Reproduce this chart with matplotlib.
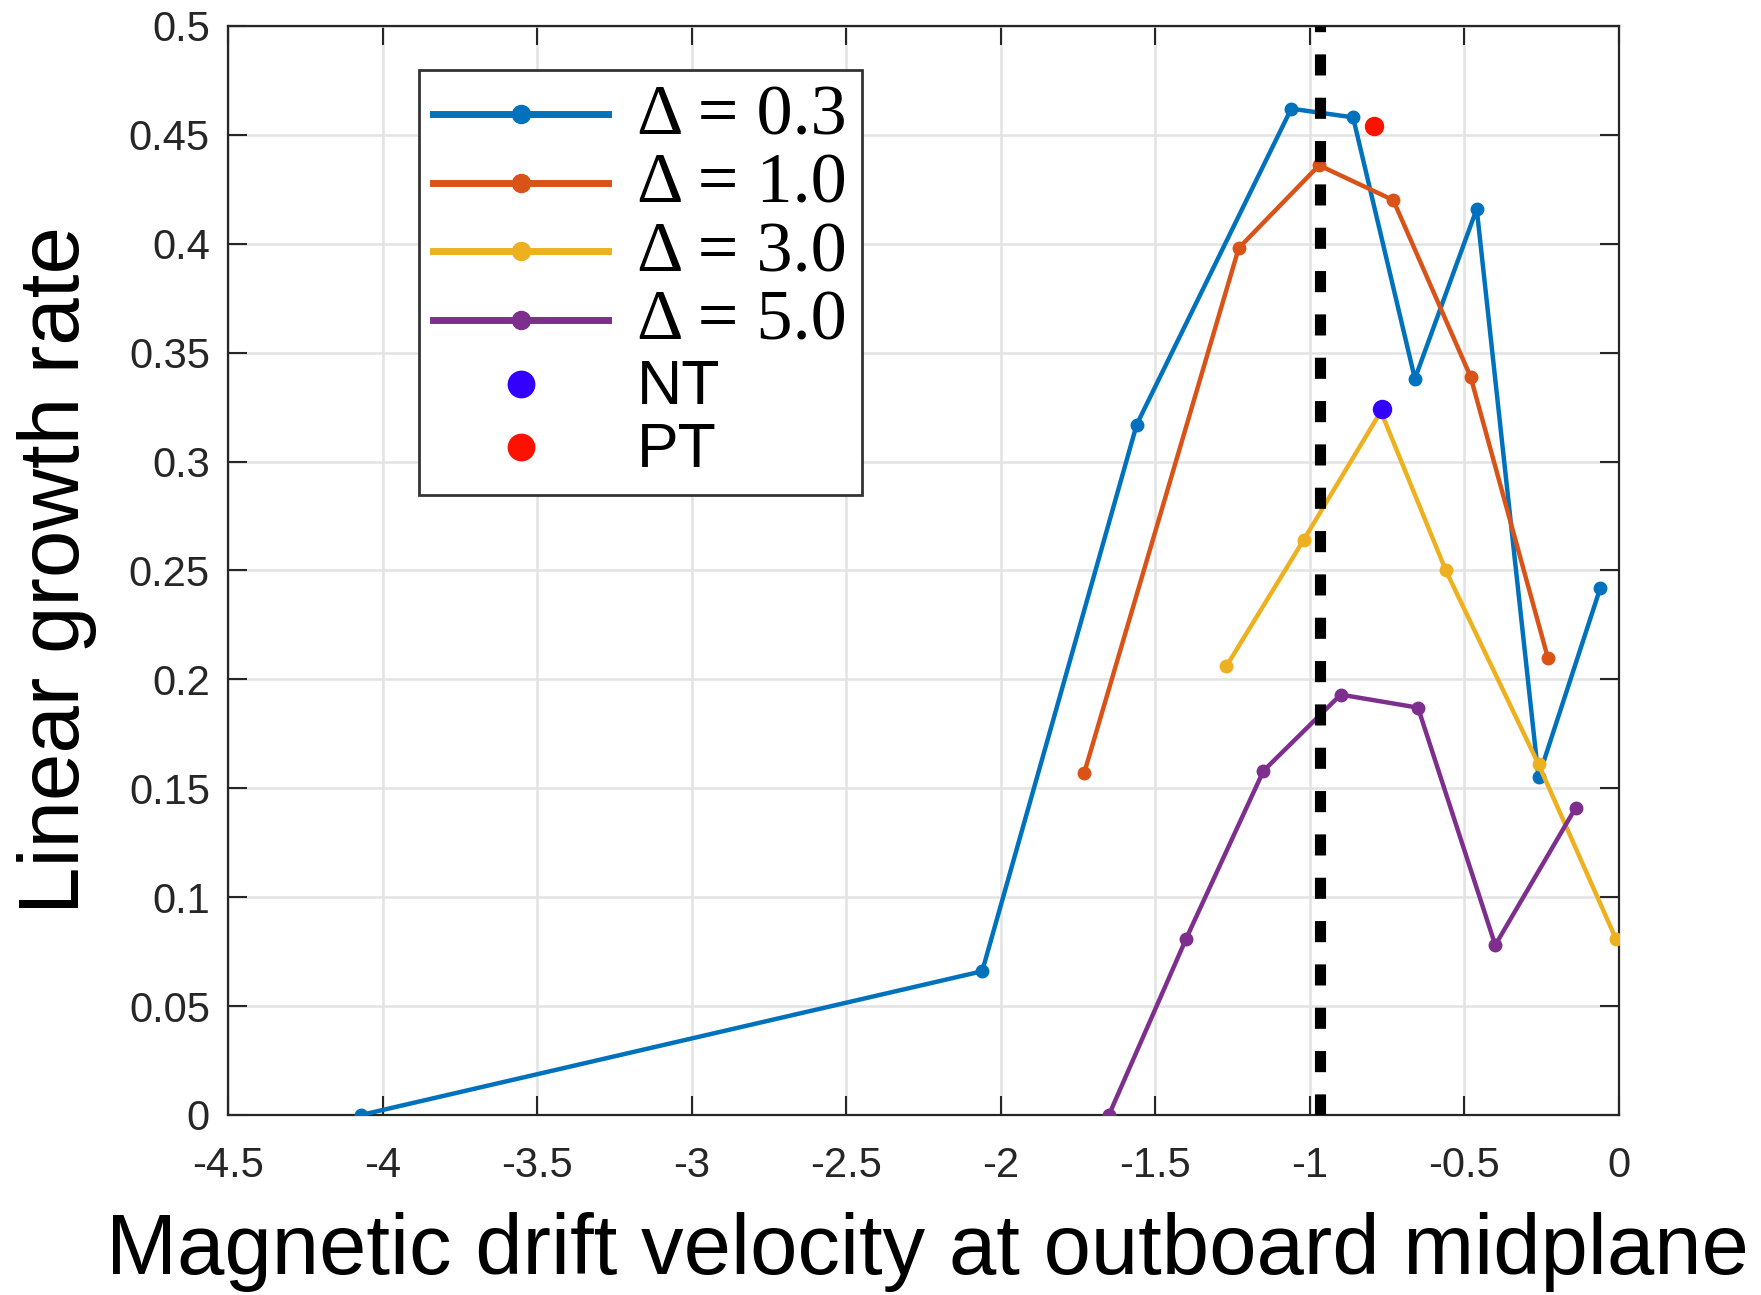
import matplotlib
matplotlib.use("Agg")
import matplotlib.pyplot as plt
from matplotlib.lines import Line2D

# growth rate vs. magnetic drift velocity, one series per Delta
x_d03 = [-4.07, -2.06, -1.56, -1.06, -0.86, -0.66, -0.46, -0.26, -0.06]
y_d03 = [0.0, 0.066, 0.317, 0.462, 0.458, 0.338, 0.416, 0.155, 0.242]

x_d10 = [-1.73, -1.23, -0.97, -0.73, -0.48, -0.23]
y_d10 = [0.157, 0.398, 0.436, 0.420, 0.339, 0.210]

x_d30 = [-1.27, -1.02, -0.77, -0.56, -0.26, -0.01]
y_d30 = [0.206, 0.264, 0.323, 0.250, 0.161, 0.081]

x_d50 = [-1.65, -1.40, -1.15, -0.90, -0.65, -0.40, -0.14]
y_d50 = [0.0, 0.081, 0.158, 0.193, 0.187, 0.078, 0.141]

nt_point = (-0.766, 0.324)
pt_point = (-0.792, 0.454)
ref_velocity = -0.968

series_labels = ["\u0394 = 0.3", "\u0394 = 1.0", "\u0394 = 3.0", "\u0394 = 5.0"]
series_colors = ["#0072BD", "#D95319", "#EDB120", "#7E2F8E"]
xticks = [-4.5, -4, -3.5, -3, -2.5, -2, -1.5, -1, -0.5, 0]
yticks = [0, 0.05, 0.1, 0.15, 0.2, 0.25, 0.3, 0.35, 0.4, 0.45, 0.5]

SANS = ["Liberation Sans", "DejaVu Sans"]
SERIF = ["Liberation Serif", "DejaVu Serif"]
AXIS_GRAY = "#262626"

fig = plt.figure(figsize=(17.61, 12.95), dpi=100)
ax = fig.add_axes([0.1295, 0.139, 0.7898, 0.841])

series = [(x_d03, y_d03), (x_d10, y_d10), (x_d30, y_d30), (x_d50, y_d50)]
for (xs, ys), color in zip(series, series_colors):
    ax.plot(xs, ys, color=color, linewidth=3.2, marker="o", markersize=9, zorder=3)

ax.plot(*nt_point, "o", color="#3300ff", markersize=13, zorder=4)
ax.plot(*pt_point, "o", color="#ff1100", markersize=13, zorder=4)

ax.axvline(ref_velocity, color="black", linewidth=8, linestyle=(0, (1.9, 2.0)), zorder=5)

ax.set_xlim(-4.5, 0)
ax.set_ylim(0, 0.5)
ax.set_xticks(xticks)
ax.set_yticks(yticks)
ax.set_xticklabels([f"{t:g}" for t in xticks])
ax.set_yticklabels([f"{t:g}" for t in yticks])

ax.grid(True, color="#e3e3e3", linewidth=1.8, zorder=0)
ax.set_axisbelow(True)
ax.tick_params(direction="in", length=14, width=1.5, colors=AXIS_GRAY,
               labelsize=30, top=True, right=True)
ax.tick_params(axis="x", pad=22)
ax.tick_params(axis="y", pad=13)
for lbl in ax.get_xticklabels() + ax.get_yticklabels():
    lbl.set_fontfamily(SANS)
for spine in ax.spines.values():
    spine.set_color(AXIS_GRAY)
    spine.set_linewidth(1.6)

ax.set_xlabel("Magnetic drift velocity at outboard midplane", fontsize=61.3,
              family=SANS, color="black")
ax.set_ylabel("Linear growth rate", fontsize=61.5, family=SANS, color="black")
ax.xaxis.set_label_coords(0.503, -0.126)
ax.xaxis.label.set_va("center")
ax.yaxis.set_label_coords(-0.123, 0.50)
ax.yaxis.label.set_va("center")

# legend uses bigger proxy handles than the plotted lines
handles = [Line2D([], [], color=c, linewidth=5, marker="o", markersize=13)
           for c in series_colors]
handles.append(Line2D([], [], color="#3300ff", linestyle="none", marker="o", markersize=19))
handles.append(Line2D([], [], color="#ff1100", linestyle="none", marker="o", markersize=19))
labels = series_labels + ["NT", "PT"]

leg = ax.legend(handles, labels, loc="upper left", bbox_to_anchor=(0.137, 0.9596),
                borderaxespad=0, fontsize=42, handlelength=3.0, handletextpad=0.5,
                labelspacing=0.06, borderpad=0.25, fancybox=False, framealpha=1,
                edgecolor="#333333")
leg.get_frame().set_linewidth(2)
leg.set_zorder(6)
for i, txt in enumerate(leg.get_texts()):
    if i < 4:
        txt.set_fontfamily(SERIF)
        txt.set_fontsize(52)
    else:
        txt.set_fontfamily(SANS)
        txt.set_fontsize(45)

fig.savefig("out.png", dpi=100)
